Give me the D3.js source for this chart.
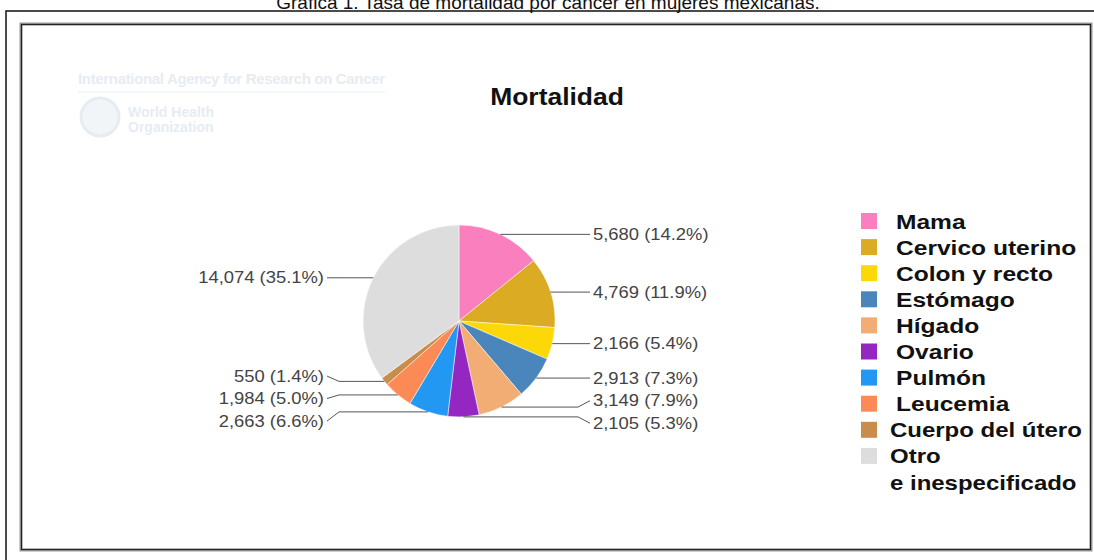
<!DOCTYPE html>
<html>
<head>
<meta charset="utf-8">
<script src="https://cdn.jsdelivr.net/npm/d3@7"></script>
<style>
	body { margin: 0; background: #fff; }
	svg { display: block; font-family: "Liberation Sans", Arial, sans-serif; }
</style>
</head>
<body>
<div id="chart"></div>
<script>
// values (deaths, women, Mexico)
var categories = ['Mama', 'Cervico uterino', 'Colon y recto', 'Estómago', 'Hígado', 'Ovario', 'Pulmón', 'Leucemia', 'Cuerpo del útero', 'Otro\ne inespecificado']
var deaths = [5680, 4769, 2166, 2913, 3149, 2105, 2663, 1984, 550, 14074]
var colors = ['#f97fbf', '#dcab24', '#fcd808', '#4a86bb', '#f1ad74', '#9427c2', '#2398f2', '#fb8a56', '#c98d4b', '#dddddd']
var caption = 'Gráfica 1. Tasa de mortalidad por cáncer en mujeres mexicanas.'
var title = 'Mortalidad'

var width = 1094, height = 560
var stretch = 1.15
var pieC = {x: 459, y: 321}, radius = 96

var svg = d3.select('#chart').append('svg')
	.attr('width', width)
	.attr('height', height)

// caption above, cut at the top like the scan
svg.append('text')
	.attr('x', 548)
	.attr('y', 9)
	.attr('text-anchor', 'middle')
	.style('font-size', '19px')
	.attr('fill', '#111')
	.text(caption)

// frames
svg.append('path')
	.attr('d', 'M6,' + height + 'V11H' + width)
	.attr('fill', 'none')
	.attr('stroke', '#111')
	.attr('stroke-width', 1.5)
svg.append('rect')
	.attr('x', 21).attr('y', 24)
	.attr('width', 1070).attr('height', 526)
	.attr('fill', 'none')
	.attr('stroke', '#999')
	.attr('stroke-width', 3)
svg.append('rect')
	.attr('x', 21.5).attr('y', 24.5)
	.attr('width', 1069).attr('height', 525)
	.attr('fill', 'none')
	.attr('stroke', '#222')
	.attr('stroke-width', 1.2)

// faint watermark
var wm = svg.append('g').attr('fill', '#e6ecf2').style('font-weight', 'bold')
wm.append('text').attr('x', 78).attr('y', 84).style('font-size', '15px')
	.attr('textLength', 307).text('International Agency for Research on Cancer')
wm.append('line').attr('x1', 78).attr('x2', 385).attr('y1', 92).attr('y2', 92)
	.attr('stroke', '#e9eff4')
wm.append('circle').attr('cx', 100).attr('cy', 117).attr('r', 19)
	.attr('fill', '#f1f5f8').attr('stroke', '#e6ecf2').attr('stroke-width', 3)
wm.append('text').attr('x', 128).attr('y', 117).style('font-size', '14px').text('World Health')
wm.append('text').attr('x', 128).attr('y', 132).style('font-size', '14px').text('Organization')

// title
svg.append('text')
	.attr('transform', 'translate(557,105) scale(' + stretch + ',1)')
	.attr('text-anchor', 'middle')
	.style('font-size', '23px')
	.style('font-weight', 'bold')
	.attr('fill', '#111')
	.text(title)

// pie
var total = d3.sum(deaths)
var pct = d3.format('.1%'), num = d3.format(',')
var slices = d3.pie().sort(null)(deaths)
var arc = d3.arc().innerRadius(0).outerRadius(radius)
var edge = d3.arc().innerRadius(radius).outerRadius(radius)

var pieG = svg.append('g').attr('transform', 'translate(' + pieC.x + ',' + pieC.y + ')')
pieG.selectAll('path.slice')
	.data(slices)
	.enter().append('path')
	.attr('class', 'slice')
	.attr('d', arc)
	.attr('fill', function(d, i) { return colors[i] })
	.attr('stroke', '#fff')
	.attr('stroke-width', 0.5)

// label layout: anchor on the rim at mid angle, then spread labels apart
var labels = slices.map(function(d, i) {
	var c = edge.centroid(d)
	var right = (d.startAngle + d.endAngle) / 2 < Math.PI
	return {i: i, ax: pieC.x + c[0], ay: pieC.y + c[1], y: pieC.y + c[1], right: right}
})
var gap = 22.5
;[true, false].forEach(function(side) {
	var group = labels.filter(function(l) { return l.right === side })
		.sort(function(a, b) { return a.ay - b.ay })
	for (var k = 0; k < 60; k++) {
		for (var j = 1; j < group.length; j++) {
			var diff = group[j].y - group[j - 1].y
			if (diff < gap) {
				var push = (gap - diff) / 2
				group[j].y += push
				group[j - 1].y -= push
			}
		}
	}
	// the scan sits a bit lower on the left
	if (!side) group.forEach(function(l) { if (l.y !== l.ay) l.y += 2.5 })
})

var rightX = 593, leftX = 324
var lab = svg.append('g')
labels.forEach(function(l) {
	var tx = l.right ? rightX - 3 : leftX + 3
	var ex = l.right ? tx - 12 : tx + 12
	lab.append('path')
		.attr('d', 'M' + l.ax + ',' + l.ay + 'H' + ex + 'L' + tx + ',' + l.y)
		.attr('fill', 'none')
		.attr('stroke', '#555')
		.attr('stroke-width', 1)
	lab.append('text')
		.attr('transform', 'translate(' + (l.right ? rightX : leftX) + ',' + (l.y + 5.5) + ') scale(' + stretch + ',1)')
		.attr('text-anchor', l.right ? 'start' : 'end')
		.style('font-size', '16px')
		.attr('fill', '#444')
		.text(num(deaths[l.i]) + ' (' + pct(deaths[l.i] / total) + ')')
})

// legend
var row = d3.scaleLinear().domain([0, 1]).range([221, 247.1])
var legend = svg.append('g')
categories.forEach(function(name, i) {
	var small = i >= 8
	legend.append('rect')
		.attr('x', 861)
		.attr('y', row(i) - 8)
		.attr('width', 16)
		.attr('height', 16)
		.attr('fill', colors[i])
	name.split('\n').forEach(function(part, k) {
		legend.append('text')
			.attr('transform', 'translate(' + (small ? 890 : 896) + ',' + (row(i + k) + 7.5) + ') scale(' + (small ? 1.17 : 1.17) + ',1)')
			.style('font-size', small ? '20.5px' : '21px')
			.style('font-weight', 'bold')
			.attr('fill', '#111')
			.text(part)
	})
})
</script>
</body>
</html>
